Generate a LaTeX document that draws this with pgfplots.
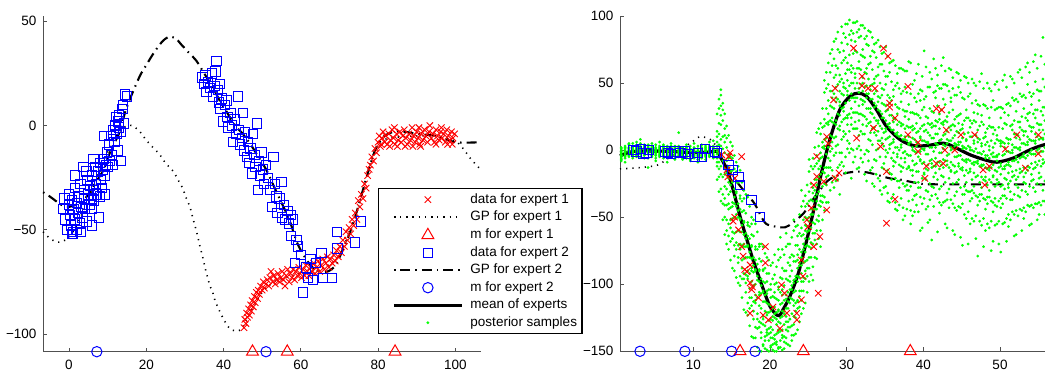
\documentclass[border=0pt]{standalone}
\usepackage{pgfplots}
\pgfplotsset{compat=1.18}
\usepackage{pgfplotstable}
\usepackage{fontspec}
\setmainfont{Liberation Sans}
\definecolor{axgray}{RGB}{80,80,80}
\definecolor{pgreen}{RGB}{0,255,0}
\definecolor{pblue}{RGB}{0,0,255}
\definecolor{pred}{RGB}{255,0,0}
\newcommand{\fs}{\fontsize{13.5bp}{16bp}\selectfont}

\pgfplotstableread{
x y
-1.5 -40
-1.2 -35
-1.0 -45
-0.5 -50
0.0 -38
0.0 -33
0.3 -43
0.5 -48
0.7 -52
0.8 -36
1.0 -52
1.1 -51
1.2 -40
1.5 -30
1.6 -24
1.6 -45
2.0 -50
2.0 -37
2.3 -42
2.5 -34
2.8 -47
3.0 -28
3.2 -39
3.5 -44
3.7 -20
3.8 -35
4.0 -31
4.2 -40
4.5 -46
4.5 -22
4.8 -26
5.0 -33
5.3 -38
5.5 -29
5.8 -35
5.9 -48
6.0 -24
6.3 -16
6.3 -31
6.5 -36
6.8 -20
7.0 -28
7.2 -33
7.5 -22
7.8 -44
8.0 -18
8.3 -26
8.5 -30
8.8 -21
9.0 -16
9.1 -5
9.2 -24
9.3 -33
9.5 -19
9.8 -13
10.0 -20
10.3 -9
10.5 -17
10.8 -5
11.0 -14
11.2 -19
11.5 -2
11.8 -8
12.0 0
12.3 4
12.3 -4
12.5 -12
12.8 2
13.0 -1
13.0 5
13.3 -3
13.5 -17
13.8 8
14.0 10
14.3 1
14.5 15
15.0 14
8.0 -34
6.0 -40
3.0 -51
34.5 23
35.0 20
35.3 24
35.6 16
36.0 21
36.5 18
37.0 25
37.3 14
37.6 19
37.9 26
38.2 31
38.5 17
38.8 11
39.0 20
39.2 8
39.5 13
39.9 2
40.3 10
40.8 12
41.0 4
41.3 -1
41.8 6
42.2 0
42.5 -8
42.8 3
43.2 -4
43.8 14
44.0 -2
44.3 -9
44.7 -6
45.1 6
45.3 -12
45.6 -3
46.0 -15
46.3 -8
46.7 -18
47.0 -11
47.3 -23
47.6 -4
48.0 -14
48.3 -20
48.6 1
48.9 -31
49.2 -17
49.5 -24
49.8 -13
50.2 -21
50.5 -28
51.0 -19
51.5 -25
52.0 -31
52.5 -39
52.9 -15
53.3 -28
53.7 -34
54.0 -42
54.5 -35
55.0 -27
55.2 -44
55.6 -38
56.0 -45
56.5 -41
57.0 -47
57.5 -43
58.0 -45
58.5 -66
58.9 -55
59.3 -58
60.0 -62
60.6 -80
61.3 -68
61.9 -73
62.5 -64
63.2 -74
65.4 -61
65.8 -73
68.0 -73
69.3 -51
69.5 -59
74.0 -56
75.5 -46
64.0 -66
57.5 -53
}\leftblue

\pgfplotstableread{
x y
45.3 -97
45.5 -93
45.8 -95
46.0 -90
46.2 -92
46.5 -88
46.7 -91
47.0 -86
47.2 -89
47.4 -84
47.7 -87
48.0 -82
48.2 -85
48.5 -80
48.8 -83
49.0 -79
49.3 -81
49.6 -77
50.0 -79
50.3 -75
50.6 -78
51.0 -76
51.3 -74
51.7 -77
52.0 -73
52.3 -70
52.7 -75
53.0 -72
53.4 -76
53.8 -74
54.1 -71
54.5 -75
54.8 -73
55.2 -70
55.5 -74
55.9 -77
56.2 -72
56.6 -69
57.0 -75
57.3 -71
57.7 -73
58.0 -69
58.4 -74
58.7 -70
59.1 -72
59.5 -68
59.8 -71
60.2 -73
60.6 -69
61.0 -72
61.3 -67
61.7 -70
62.1 -72
62.5 -68
62.9 -70
63.3 -66
63.7 -71
64.1 -68
64.5 -65
64.9 -70
65.3 -67
65.7 -64
66.1 -69
66.5 -66
66.9 -63
67.3 -68
67.7 -64
68.1 -66
68.5 -62
68.9 -65
69.3 -60
69.7 -63
70.1 -58
70.5 -61
70.9 -55
71.3 -58
71.7 -51
72.1 -55
72.5 -49
72.9 -52
73.3 -45
73.7 -48
74.1 -42
74.5 -45
74.9 -36
75.3 -39
75.7 -33
76.1 -35
76.5 -28
76.9 -30
77.3 -24
77.7 -21
78.0 -19
78.4 -15
78.8 -17
79.2 -11
79.6 -13
80.0 -8
80.3 -5
80.6 -10
80.8 -9
81.0 -6
81.3 -3
81.7 -8
82.0 -5
82.4 -9
82.8 -4
83.0 -10
83.2 -7
83.6 -2
84.0 -6
84.2 -1
84.4 -9
84.8 -4
85.0 -10
85.2 -7
85.6 -3
86.0 -8
86.4 -5
86.8 -2
87.0 -10
87.2 -6
87.6 -9
88.0 -4
88.4 -7
88.8 -1
89.0 -10
89.2 -5
89.6 -8
90.0 -3
90.4 -6
90.6 -1
90.8 -9
91.0 -10
91.2 -4
91.6 -7
92.0 -2
92.4 -5
92.8 -8
93.2 -3
93.4 0
93.8 -6
94.2 -4
94.6 -8
95.0 -2
95.0 -9
95.4 -5
95.8 -7
96.2 -3
96.4 -1
96.6 -6
97.0 -4
97.4 -8
97.8 -2
98.0 -9
98.2 -5
98.6 -7
99.0 -3
99.2 -9
99.4 -6
99.8 -4
}\leftred

\pgfplotstableread{
x y
13.7 -3.5
14.6 -4.8
14.8 -2
16.3 -4.8
14.4 -14.7
14.5 -20
15.4 -21
15.2 -53
15.4 -50
15.9 -59.5
16.3 -72
16.5 -79
16.7 -89
17.4 -85.6
17.0 -90.6
17.4 -99
17.7 -102
17.6 -104
17.4 -121.6
18.5 -110
19.1 -123
19.8 -126.6
19.4 -84
19.4 -72
20.4 -117
21.3 -133
21.5 -100.5
21.9 -106.7
22.2 -121.6
23.5 -121.6
23.5 -126.6
24.1 -111.7
24.3 -94
24.1 -82
24.8 -52
25.0 -57
25.4 -43
25.7 -72
26.5 -64.5
25.7 -26
26.1 -4.8
26.1 -19.7
27.0 -23.4
26.3 -106.7
27.4 10
27.4 -44.6
27.6 5
28.3 37.5
28.5 46
28.5 -21
29.0 -17
30.9 76
31.3 9
32.0 55
32.0 48
32.8 46
33.7 46
33.5 16.4
34.4 2.7
34.8 76
35.4 70
35.2 -16
35.2 -54.5
35.6 35
35.6 32
36.3 24
36.3 -36.6
38.0 47.5
38.0 11.4
39.3 5.7
39.3 -1
40.2 -21
40.4 -12
41.7 31
41.7 -10
42.4 30
42.6 -10
43.0 15
42.8 0
44.1 0
44.9 11.4
46.7 11.4
47.8 -14.7
48.0 -26
48.6 -12
50.7 0.7
52.2 11.4
53.3 -13.4
55.0 11.4
55.0 -2.7
}\rightred

\pgfplotstableread{
x a b c d e f g h i j k l
0.6 -8 -6 -5 -4 -3 -2 -1 0 2 -7 -4 1
1.1 -6 -4 -3 -2 -1 0 1 3 -5 -9 -2 2
1.6 -5 -3 -2 -1 0 1 2 4 -4 5 -1 0
2.1 -4 -2 -1 0 1 2 3 5 -6 -3 0 -1
2.6 -3 -1 0 1 2 4 -4 -2 6 -5 1 0
3.1 -5 -3 -2 0 1 2 3 -1 5 8 -1 0
3.6 -4 -2 -1 0 1 3 4 -3 -6 2 -1 1
4.1 -6 -3 -1 0 2 3 1 -2 4 -13 0 -1
4.6 -5 -4 -2 -1 0 1 3 2 -3 5 -1 0
5.1 -6 -3 -2 -1 0 1 2 4 -4 -8 0 -1
5.6 -5 -3 -1 0 1 2 -2 3 -4 6 -1 0
6.1 -4 -2 -1 0 2 3 1 -3 -6 4 -1 0
6.6 -6 -4 -2 -1 0 1 3 -3 2 -9 -1 0
7.1 -5 -3 -2 0 1 2 -1 3 -4 5 -1 0
7.6 -6 -4 -2 -1 1 2 0 -3 3 -7 -1 0
8.1 -5 -3 -2 -1 0 1 2 -4 3 13 -1 0
8.6 -7 -5 -3 -2 -1 0 1 -4 2 -6 -2 -1
9.1 -6 -4 -3 -1 0 1 -2 2 -5 4 -2 -1
9.6 -7 -5 -3 -2 -1 0 1 -4 3 -8 -2 -1
10.1 -6 -4 -2 -1 0 1 -3 2 -5 5 -2 -1
10.6 -7 -5 -3 -2 -1 1 0 -4 3 -9 -2 -1
11.1 -6 -4 -3 -1 0 1 2 -2 -5 4 -2 -1
11.6 -5 -3 -2 -1 0 1 2 -4 3 -7 -1 0
12.1 -5 -3 -2 0 1 2 -1 3 -4 6 -1 0
12.6 -6 -4 -2 -1 0 1 3 -3 2 7 -1 0
13.1 -12 -6 -3 -1 1 3 6 -22 14 27 -9 10
13.6 -38 -29 -12 -5 3 8 19 26 41 45 -18 33
14.1 -63 -41 -36 -18 -14 -2 6 11 27 -27 -50 16
14.6 -74 -64 -44 -40 -24 -21 -6 -3 11 -55 -33 -13
15.1 -88 -66 -61 -42 -39 -24 -23 -6 3 -66 -51 -15
15.6 -95 -74 -69 -51 -48 -32 -31 -16 -9 -61 -42 -24
16.1 -101 -94 -74 -70 -52 -51 -36 -34 -15 -73 -61 -44
16.6 -119 -96 -92 -72 -70 -54 -53 -36 -30 -81 -63 -45
17.1 -123 -114 -94 -90 -72 -71 -56 -54 -35 -96 -80 -64
17.6 -139 -116 -110 -90 -88 -72 -71 -55 -50 -98 -81 -63
18.1 -140 -132 -112 -108 -90 -89 -74 -72 -55 -114 -100 -82
18.6 -150 -132 -128 -108 -106 -90 -89 -72 -70 -116 -98 -81
19.1 -146 -145 -126 -124 -106 -105 -90 -89 -72 -130 -113 -98
19.6 -149 -138 -136 -123 -121 -107 -105 -98 -80 -134 -114 -92
20.1 -147 -146 -136 -132 -120 -116 -104 -100 -86 -140 -126 -110
20.6 -150 -141 -138 -125 -122 -110 -106 -100 -78 -144 -117 -93
21.1 -148 -147 -136 -134 -120 -119 -104 -102 -82 -74 -128 -112
21.6 -149 -138 -134 -124 -120 -108 -104 -96 -74 -140 -114 -88
22.1 -144 -140 -128 -124 -111 -108 -96 -90 -72 -62 -134 -118
22.6 -146 -132 -126 -114 -110 -98 -94 -80 -70 -126 -104 -86
23.1 -138 -130 -116 -112 -99 -97 -83 -79 -60 -52 -124 -106
23.6 -134 -118 -112 -98 -94 -82 -78 -64 -56 -113 -88 -71
24.1 -122 -112 -98 -92 -80 -76 -64 -58 -42 -30 -105 -86
24.6 -114 -96 -90 -76 -72 -60 -56 -42 -34 -83 -66 -50
25.1 -98 -88 -72 -66 -53 -50 -38 -31 -16 -7 -80 -60
25.6 -87 -70 -62 -48 -44 -32 -28 -14 -6 -97 -54 -38
26.1 -70 -60 -44 -38 -26 -22 -10 -4 13 -81 -52 -33
26.6 -60 -42 -34 -22 -18 -6 -2 12 20 -72 -38 -12
27.1 -45 -35 -17 -13 1 3 18 23 43 52 -25 8
27.6 -39 -19 -13 2 5 19 21 37 49 65 -6 27
28.1 -24 -15 1 6 21 24 39 44 63 75 10 32
28.6 -23 -2 3 19 22 36 39 56 63 83 10 47
29.1 -11 -2 15 18 33 36 51 56 73 -33 26 44
29.6 -12 10 14 29 32 47 50 67 74 87 23 41
30.1 1 7 24 26 41 44 60 65 79 94 19 52
30.6 -21 1 19 24 39 42 58 63 82 89 31 50
31.1 -5 16 21 36 39 54 57 74 81 95 28 46
31.6 -13 3 22 27 43 46 61 66 84 90 33 11
32.1 -9 12 19 34 37 50 54 70 75 93 26 44
32.6 -23 0 18 23 39 42 57 61 79 85 31 48
33.1 -15 7 13 28 31 45 48 65 70 88 21 38
33.6 -27 -7 13 17 32 35 50 53 73 79 24 42
34.1 -21 1 7 20 22 36 40 56 62 82 14 30
34.6 -33 -13 5 9 24 27 41 46 64 72 16 35
35.1 -27 -5 0 14 16 29 33 49 55 77 8 22
35.6 -39 -17 1 4 17 20 35 39 58 65 10 26
36.1 -33 -12 -8 6 8 21 24 40 45 67 -2 15
36.6 -45 -23 -5 -3 11 13 27 32 50 57 2 19
37.1 -36 -16 -12 2 4 18 20 36 42 61 -6 11
37.6 -49 -27 -9 -6 8 10 25 29 47 59 -1 16
38.1 -38 -30 -13 -12 4 5 17 23 34 66 -4 10
38.6 -37 -19 -15 0 2 15 18 28 49 -49 -8 9
39.1 -41 -33 -16 -10 3 6 13 27 36 57 -2 20
39.6 -35 -28 -8 -7 9 10 16 37 45 -60 -1 24
40.1 -36 -18 -17 1 0 14 19 32 38 74 -9 7
40.6 -42 -31 -15 -11 5 6 20 24 47 -54 -3 13
41.1 -34 -27 -10 -7 2 17 20 29 53 -67 -13 9
41.6 -33 -17 -12 2 5 18 22 39 44 61 -6 12
42.1 -39 -29 -14 -9 7 7 23 27 46 -47 -2 16
42.6 -39 -20 -13 1 4 19 21 38 49 69 -7 11
43.1 -37 -32 -11 -8 5 8 21 25 48 -58 -4 14
43.6 -37 -16 -15 0 2 15 18 36 39 60 -9 7
44.1 -43 -34 -17 -12 3 5 18 23 41 -63 -5 11
44.6 -42 -22 -12 -10 4 6 20 26 47 57 -4 13
45.1 -40 -33 -15 -13 1 3 16 19 39 -71 -7 9
45.6 -51 -30 -24 -9 -7 7 8 24 30 54 -15 1
46.1 -38 -31 -16 -14 0 2 17 22 42 -55 -8 10
46.6 -53 -32 -27 -11 -9 5 7 22 28 50 -17 -1
47.1 -41 -35 -19 -10 -8 6 9 27 34 -79 -2 15
47.6 -56 -33 -28 -12 -11 3 5 21 26 57 -20 -3
48.1 -44 -37 -23 -20 -6 -4 10 13 33 -60 -13 4
48.6 -58 -35 -30 -15 -13 0 3 18 24 46 -22 -6
49.1 -46 -39 -20 -19 -5 -2 12 17 37 -68 -11 2
49.6 -55 -42 -25 -22 -8 -5 8 11 31 51 -16 -4
50.1 -43 -36 -27 -12 -10 3 7 24 32 -76 -18 5
50.6 -54 -34 -29 -14 -12 2 5 20 28 56 -21 -3
51.1 -48 -28 -25 -11 -9 5 8 26 35 -57 -17 -1
51.6 -46 -37 -20 -16 -2 0 15 19 39 53 -8 4
52.1 -45 -26 -22 -7 -5 9 12 29 38 -63 -15 2
52.6 -44 -35 -17 -14 0 2 17 21 42 60 -6 8
53.1 -43 -24 -20 -5 -3 11 14 31 41 -51 -13 5
53.6 -41 -33 -15 -12 4 6 22 27 49 65 -4 10
54.1 -41 -23 -18 -3 0 14 17 34 40 -55 -10 7
54.6 -40 -31 -13 -9 5 7 24 30 51 71 -3 12
55.1 -39 -21 -17 -2 1 15 19 37 44 -48 -8 8
55.6 -38 -30 -10 -7 8 9 26 32 53 84 -1 15
}\greentab

\pgfplotstableread{
x a b c d e f g h i j
13.35 -20 -9 -2 4 12 20 31 -31 -14 38
13.85 -52 -33 -20 -8 1 10 22 35 -40 30
14.35 -70 -52 -41 -29 -17 -8 2 18 -60 9
14.85 -82 -68 -52 -43 -31 -16 -5 6 -26 -58
15.35 -90 -79 -62 -50 -40 -29 -14 -4 -71 -35
15.85 -99 -84 -71 -60 -50 -40 -24 -12 -80 -45
16.35 -110 -96 -82 -71 -61 -46 -38 -24 -88 -56
16.85 -121 -106 -93 -80 -72 -62 -47 -33 -99 -66
17.35 -131 -118 -103 -92 -80 -66 -57 -42 -110 -76
17.85 -140 -126 -113 -101 -91 -80 -64 -52 -120 -86
18.35 -147 -133 -122 -110 -97 -85 -74 -61 -126 -94
18.85 -150 -140 -129 -118 -107 -96 -83 -70 -136 -101
19.35 -148 -139 -131 -120 -113 -99 -88 -77 -142 -108
19.85 -150 -142 -133 -127 -115 -104 -92 -82 -137 -121
20.35 -149 -145 -134 -127 -118 -109 -96 -84 -140 -124
20.85 -150 -143 -137 -126 -121 -111 -99 -87 -145 -130
21.35 -147 -142 -135 -125 -115 -106 -95 -80 -65 -129
21.85 -148 -139 -130 -122 -112 -101 -90 -78 -143 -120
22.35 -145 -135 -128 -118 -106 -97 -84 -70 -132 -113
22.85 -142 -131 -122 -111 -101 -90 -78 -65 -138 -104
23.35 -137 -125 -114 -105 -94 -83 -71 -57 -120 -96
23.85 -128 -117 -105 -95 -86 -74 -62 -48 -109 -84
24.35 -118 -105 -95 -84 -74 -63 -52 -38 -98 -70
24.85 -106 -94 -82 -71 -61 -51 -40 -26 -88 -57
25.35 -93 -80 -69 -58 -48 -37 -25 -12 -73 -44
25.85 -80 -67 -55 -44 -35 -22 -12 2 -62 -30
26.35 -66 -53 -41 -31 -20 -8 3 16 -49 -14
26.85 -52 -39 -27 -16 -5 6 17 31 -34 2
27.35 -39 -26 -13 -3 9 20 31 46 -20 58
27.85 -30 -13 -1 11 22 33 44 58 -8 72
28.35 -20 -4 9 20 31 42 54 68 -28 81
28.85 -13 4 16 27 38 49 61 75 -22 88
29.35 -9 8 21 31 42 53 65 80 -2 92
29.85 -5 12 24 35 46 57 69 84 -17 94
30.35 -2 14 27 37 48 60 71 86 5 97
30.85 0 16 28 39 50 61 72 87 -9 95
31.35 1 16 28 39 50 61 73 88 -14 96
31.85 0 14 27 38 49 60 71 85 -6 93
32.35 -3 12 25 36 47 58 69 83 -18 91
32.85 -8 8 20 31 42 53 64 78 -1 89
33.35 -13 4 16 27 38 49 60 74 -25 84
33.85 -18 0 11 22 33 44 55 69 -8 80
34.35 -23 -5 7 18 29 39 50 64 -30 77
34.85 -28 -10 3 13 24 34 45 59 -14 73
35.35 -32 -15 -2 9 19 30 41 55 -38 70
35.85 -36 -18 -6 5 15 26 37 51 -22 66
36.35 -39 -21 -9 2 12 23 34 48 -44 63
36.85 -41 -23 -11 0 10 21 31 46 -28 61
37.35 -43 -25 -13 -2 8 19 30 44 -52 60
37.85 -44 -26 -14 -3 7 18 29 43 -30 59
38.35 -45 -27 -15 -4 6 17 28 42 -55 65
38.85 -34 -24 -11 -1 8 16 27 39 -46 52
39.35 -46 -28 -16 -5 5 14 26 42 -24 64
39.85 -40 -21 -10 1 7 18 30 44 -58 55
40.35 -44 -30 -14 -3 6 15 25 40 -22 62
40.85 -37 -25 -8 2 11 19 31 47 -52 58
41.35 -42 -28 -12 -1 9 18 28 43 -20 68
41.85 -36 -22 -9 4 12 21 33 48 -61 56
42.35 -41 -27 -11 -2 8 20 30 46 -19 63
42.85 -38 -24 -8 3 12 22 34 49 -55 59
43.35 -43 -29 -13 -3 7 17 28 44 -21 61
43.85 -40 -25 -11 1 9 19 30 46 -60 54
44.35 -45 -31 -16 -5 4 14 25 41 -24 58
44.85 -43 -28 -14 -4 6 15 27 43 -65 52
45.35 -48 -33 -19 -8 2 12 22 38 -27 55
45.85 -46 -31 -17 -7 3 13 24 40 -70 50
46.35 -51 -36 -22 -10 0 10 20 35 -30 53
46.85 -49 -34 -20 -9 1 11 21 37 -66 48
47.35 -53 -38 -24 -12 -2 8 18 33 -33 51
47.85 -51 -36 -22 -11 -1 9 19 34 -72 46
48.35 -55 -40 -26 -14 -4 6 16 31 -35 50
48.85 -53 -38 -24 -13 -3 7 17 32 -75 44
49.35 -56 -41 -27 -15 -5 5 15 30 -36 49
49.85 -53 -38 -24 -13 -3 7 17 32 -70 45
50.35 -55 -40 -26 -14 -4 6 16 31 -34 52
50.85 -51 -36 -22 -11 -1 9 19 34 -68 47
51.35 -52 -37 -23 -12 -2 8 18 33 -31 55
51.85 -48 -33 -19 -8 2 12 22 37 -64 50
52.35 -49 -34 -20 -9 1 11 21 36 -28 58
52.85 -45 -30 -16 -5 5 15 25 40 -60 54
53.35 -46 -31 -17 -6 4 14 24 39 -25 62
53.85 -42 -27 -13 -2 8 18 28 43 -56 58
54.35 -43 -28 -14 -3 7 17 27 42 -22 66
54.85 -40 -25 -11 0 10 20 30 45 -52 61
55.35 -41 -26 -12 -1 9 19 29 44 -20 70
55.85 -38 -23 -9 2 12 22 32 47 -48 64
}\greentabb

\pgfplotsset{
  mystyle/.style={
    scale only axis, anchor=south west, clip=false,
    axis lines*=left,
    axis line style={draw=axgray, line width=1bp},
    tick align=inside, major tick length=4bp,
    tick style={draw=axgray, line width=0.9bp},
    tick label style={font=\fs},
    xticklabel style={yshift=-5bp},
    yticklabel style={xshift=-3bp},
    legend image code/.code={\path (0bp,0bp) (76.7bp,0bp);
      \draw[mark repeat=2,mark phase=2,##1] plot coordinates {(8.7bp,0bp) (42.7bp,0bp) (76.7bp,0bp)};},
  },
  redx/.style={only marks, mark=x, mark size=4.5bp, color=pred, line width=0.9bp,
    mark options={solid, draw=pred}},
  bluesq/.style={only marks, mark=square, mark size=4.7bp, color=pblue, line width=0.9bp,
    mark options={solid, draw=pblue, fill=none}},
  redtri/.style={only marks, mark=triangle, mark size=6.8bp, color=pred, line width=1bp,
    mark options={solid, draw=pred, fill=none}},
  bluecirc/.style={only marks, mark=o, mark size=5.2bp, color=pblue, line width=1bp,
    mark options={solid, draw=pblue, fill=none}},
  gpone/.style={no marks, black, line width=1.6bp, dash pattern=on 1.2bp off 5bp, smooth},
  gptwo/.style={no marks, black, line width=2.1bp, dash pattern=on 1.5bp off 5bp on 10bp off 5bp, smooth},
  meanst/.style={no marks, black, line width=3.2bp, smooth},
  greenst/.style={only marks, mark=*, mark size=1.3bp, color=pgreen, line width=0.2bp,
    mark options={solid, draw=pgreen, fill=pgreen}},
}

\begin{document}
\begin{tikzpicture}
\path[use as bounding box] (0bp,0bp) rectangle (1045bp,372bp);

% ---------------- left axis ----------------
\begin{axis}[mystyle,
  at={(43bp,20.3bp)}, width=438bp, height=335.7bp,
  xmin=-6.73, xmax=106.65, ymin=-108.5, ymax=52.56,
  xtick={0,20,40,60,80,100}, xticklabels={0,20,40,60,80,100},
  ytick={-100,-50,0,50}, yticklabels={−100,−50,0,50},
  legend cell align=left,
  legend style={at={(0.7648,0.4876)}, anchor=north west, draw=black, line width=1.2bp,
    fill=white, font=\fs, inner xsep=5bp, inner ysep=4.65bp, row sep=4.83bp, column sep=7bp,
    nodes={inner sep=0pt, text height=9.8bp, text depth=2.9bp}, cells={anchor=west}},
]
\addplot[redx] table {\leftred};
\addlegendentry{data for expert 1}
\addplot[gpone] coordinates {(-6.7,-51) (-5,-54) (-3,-56) (-1,-55) (1,-51) (3,-44) (5,-35) (7,-26) (9,-17) (11,-9) (13,-3) (15,0) (16.2,0) (17.2,-1) (18.4,-3) (20,-7) (22,-11) (23.5,-14) (25,-18) (27,-22) (28.5,-27) (29.4,-30) (30.4,-35) (31.3,-39) (32,-44) (32.6,-48) (33.3,-53) (33.9,-58) (34.6,-63) (35.2,-68) (35.9,-73) (36.5,-77) (37.2,-80) (37.8,-84) (39.5,-91) (41,-96) (42,-98) (43,-98.5) (44.5,-98) (46,-93) (48,-86) (50,-80) (53,-75) (56,-73) (60,-71) (64,-70) (68,-66) (70,-62) (72,-54) (74,-44) (76,-32) (78,-18) (80,-9) (83,-6) (90,-5) (95,-5) (100,-7.5) (102,-11) (104,-16) (106.5,-21)};
\addlegendentry{GP for expert 1}
\addplot[redtri] coordinates {(47.5,-108.5) (56.5,-108.5) (84.4,-108.5)};
\addlegendentry{m for expert 1}
\addplot[bluesq] table {\leftblue};
\addlegendentry{data for expert 2}
\addplot[gptwo] coordinates {(-6.7,-32) (-5,-34) (-2,-38) (0,-39) (3,-37) (5,-33) (7,-27) (9,-21) (11,-11) (12.8,-4.5) (14,3) (15,9) (16.5,16) (18.4,24) (20,29) (22,35) (24,40) (25.7,42.5) (27.5,42) (29,39) (31,35) (33,31) (35,25) (37,19) (39,12) (41,6) (43,0) (45,-4) (47,-9) (49,-15) (51,-21) (53,-29) (55,-37) (57,-45) (59,-56) (61,-63) (63,-68) (65,-70) (67,-70) (69,-67) (71,-59) (73,-50) (75,-38) (77,-25) (79,-13) (81,-6) (84,-3) (87,-3) (90,-4) (95,-5) (100,-8) (106.7,-8)};
\addlegendentry{GP for expert 2}
\addplot[bluecirc] coordinates {(7.2,-108.5) (51,-108.5)};
\addlegendentry{m for expert 2}
\addlegendimage{meanst}
\addlegendentry{mean of experts}
\addlegendimage{greenst}
\addlegendentry{posterior samples}
\end{axis}

% ---------------- right axis ----------------
\begin{axis}[mystyle,
  at={(620bp,20.7bp)}, width=425bp, height=335.3bp,
  xmin=0.44, xmax=55.87, ymin=-150, ymax=100,
  xtick={10,20,30,40,50}, xticklabels={10,20,30,40,50},
  ytick={-150,-100,-50,0,50,100}, yticklabels={−150,−100,−50,0,50,100},
]
\pgfplotsinvokeforeach{a,b,c,d,e,f,g,h,i,j,k,l}{
  \addplot[greenst] table[x=x, y=#1] {\greentab};
}
\pgfplotsinvokeforeach{a,b,c,d,e,f,g,h,i,j}{
  \addplot[greenst] table[x=x, y=#1] {\greentabb};
}
\addplot[redx] table {\rightred};
\addplot[gpone] coordinates {(0.44,-14) (2,-13.5) (4,-12.5) (5.4,-11) (6.5,-7) (8,-1) (9.8,6) (10.9,10) (12.2,8) (13,3) (13.6,-3) (14.4,-14.7) (15.2,-29.6) (16.1,-49.5) (17,-67) (17.8,-82) (18.7,-96.8) (19.8,-114) (20.9,-123) (21.7,-119) (22.6,-109) (23.7,-91.8) (24.8,-67) (25.7,-44.6) (26.7,-17.2) (27.8,7.7) (29.1,30) (30.4,40) (31.5,42.5) (32.6,40) (33.9,30) (35.2,17.6) (37,7.7) (38.7,3.4) (40.5,3.4)};
\addplot[redtri] coordinates {(16.1,-150) (24.35,-150) (38.3,-150)};
\addplot[bluesq] coordinates {(2.2,0) (2.6,-1) (3.2,1) (3.5,-2.5) (3.9,-2) (4.2,0) (6.3,-1) (6.7,-2) (7.1,-3) (7.6,-1) (8.3,-2) (8.9,-1) (9.3,-3) (10.2,-5) (10.6,-2) (11.1,-5) (11.5,1) (12.8,-1) (13.1,-2) (14.6,-11) (15.1,-15) (15.9,-20) (16.1,-26) (17.6,-37) (18.7,-50)};
\addplot[gptwo] coordinates {(0.44,-1.5) (5,-1) (10,-1.5) (13,-1) (13.5,-3) (14.4,-12) (15.2,-20) (16,-26) (17,-33) (18,-40) (18.9,-50) (19.5,-55) (20.7,-57) (22,-57.5) (23,-54) (24.4,-47) (25.7,-36) (26.5,-30) (27.5,-23) (28.5,-19.5) (30,-17) (31.5,-16) (33,-17) (35.6,-21) (37,-22) (39.6,-25) (42,-25.5) (56,-25.5)};
\addplot[bluecirc] coordinates {(3.05,-150) (8.9,-150) (15,-150) (18.05,-150)};
\addplot[meanst] coordinates {(0.44,-4.3) (1.2,-2.5) (2.2,-1) (4,-0.5) (7,-1) (10,-1.8) (12,-1.5) (13.1,-1) (13.5,-4.8) (14.4,-14.7) (15.2,-29.6) (16.1,-49.5) (17,-67) (17.8,-82) (18.7,-96.8) (19.8,-114) (20.4,-120) (20.9,-123) (21.3,-123) (21.7,-119) (22.6,-109) (23.7,-91.8) (24.8,-67) (25.7,-44.6) (26.7,-17.2) (27.8,7.7) (29.1,30) (30.4,40) (31.5,42.5) (32.6,40) (33.9,30) (35.2,17.6) (37,7.7) (38.7,3.4) (40.5,3.4) (42.6,5.2) (43.9,2.7) (46.1,-3.5) (48.3,-7.7) (49.6,-9) (51.7,-6) (53.9,0.2) (55.4,3.4) (56.5,5)};
\end{axis}
\end{tikzpicture}
\end{document}
